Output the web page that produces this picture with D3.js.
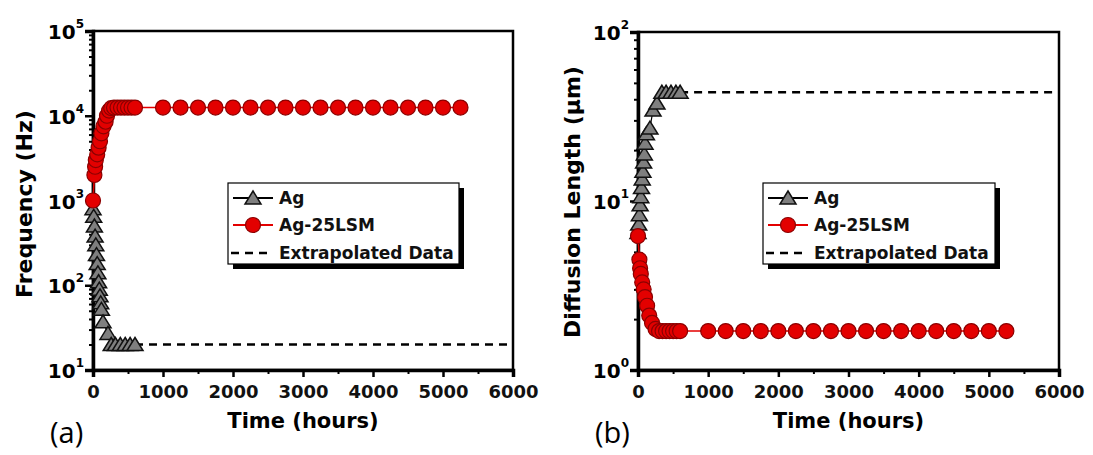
<!DOCTYPE html>
<html>
<head>
<meta charset="utf-8" />
<script src="https://d3js.org/d3.v7.min.js"></script>
<style>
    body { margin: 0; background: #fff; }
    svg { display: block; font-family: 'DejaVu Sans', sans-serif; }
</style>
</head>
<body>
<svg width="1093" height="455"></svg>
<script>
// ---- data ----
// panel (a): frequency
const agTimeA = [0, 10, 20, 30, 40, 50, 60, 70, 80, 90, 100, 110, 120, 143, 214, 260, 320, 390, 460, 530, 600]
const agFreq = [800, 650, 500, 380, 300, 230, 180, 140, 110, 90, 75, 62, 52, 37, 27, 20, 20, 20, 20, 20, 20]
const lsmTimeA = [0, 20, 30, 40, 60, 80, 100, 120, 150, 180, 200, 230, 260, 300, 350, 400, 450, 500, 550, 600,
    1000, 1250, 1500, 1750, 2000, 2250, 2500, 2750, 3000, 3250, 3500, 3750, 4000, 4250, 4500, 4750, 5000, 5250]
const lsmFreq = [1000, 2000, 2500, 3000, 3500, 4200, 5000, 6200, 7500, 8500, 10000, 11500, 12300, 12500, 12500, 12500, 12500, 12500, 12500, 12500,
    12500, 12500, 12500, 12500, 12500, 12500, 12500, 12500, 12500, 12500, 12500, 12500, 12500, 12500, 12500, 12500, 12500, 12500]
const extrapTime = [600, 6000]
const extrapFreq = [20, 20]

// panel (b): diffusion length
const agTimeB = [0, 10, 20, 30, 40, 50, 60, 70, 80, 90, 100, 120, 170, 214, 270, 340, 400, 470, 540, 600]
const agDiff = [6.5, 7.3, 8.3, 9.5, 10.6, 12, 13.5, 15, 17, 19, 22, 25, 27, 34.5, 38, 44, 44, 44, 44, 44]
const lsmTimeB = [0, 20, 30, 40, 60, 80, 100, 130, 160, 200, 250, 300, 350, 400, 450, 500, 550, 600,
    1000, 1250, 1500, 1750, 2000, 2250, 2500, 2750, 3000, 3250, 3500, 3750, 4000, 4250, 4500, 4750, 5000, 5250]
const lsmDiff = [6.2, 4.5, 4.0, 3.7, 3.3, 3.0, 2.7, 2.4, 2.1, 1.9, 1.75, 1.7, 1.7, 1.7, 1.7, 1.7, 1.7, 1.7,
    1.7, 1.7, 1.7, 1.7, 1.7, 1.7, 1.7, 1.7, 1.7, 1.7, 1.7, 1.7, 1.7, 1.7, 1.7, 1.7, 1.7, 1.7]
const extrapDiff = [44, 44]

const xTicks = [0, 1000, 2000, 3000, 4000, 5000, 6000]
const xMinor = [500, 1500, 2500, 3500, 4500, 5500]
const legendLabels = ['Ag', 'Ag-25LSM', 'Extrapolated Data']

const svg = d3.select('svg')
const triPath = 'M0,-7L8,6L-8,6Z'
const grey = '#7f7f7f'
const red = '#e30000'

function drawPanel(p) {
    const x = d3.scaleLinear().domain([0, 6000]).range([p.left, p.right])
    const y = d3.scaleLog().domain(p.yDomain).range([p.bottom, p.top])
    const g = svg.append('g')

    // frame (top / right)
    g.append('rect')
        .attr('x', p.left).attr('y', p.top)
        .attr('width', p.right - p.left).attr('height', p.bottom - p.top)
        .style('fill', 'none').style('stroke', '#000').style('stroke-width', 2.5)

    // y minor + major ticks
    const yMajor = p.yMajor
    const yMinor = y.ticks().filter(v => !yMajor.includes(v))
    g.append('g').attr('transform', `translate(${p.left},0)`)
        .call(d3.axisLeft(y).tickValues(yMinor).tickSize(4).tickFormat(''))
        .call(a => a.select('.domain').remove())
        .selectAll('line').style('stroke-width', 2)
    g.append('g').attr('transform', `translate(${p.left},0)`)
        .call(d3.axisLeft(y).tickValues(yMajor).tickSize(8).tickFormat(''))
        .call(a => a.select('.domain').style('stroke-width', 3.5))
        .selectAll('line').style('stroke-width', 2.5)

    // y labels 10^n
    yMajor.forEach(v => {
        const t = g.append('text')
            .attr('x', p.left - 9).attr('y', y(v) + 8)
            .attr('text-anchor', 'end')
            .style('font-size', '20px').style('font-weight', 'bold')
        t.append('tspan').text('10')
        t.append('tspan').attr('dy', -11).style('font-size', '12px').text(Math.round(Math.log10(v)))
    })

    // x ticks
    g.append('g').attr('transform', `translate(0,${p.bottom})`)
        .call(d3.axisBottom(x).tickValues(xMinor).tickSize(4).tickFormat(''))
        .call(a => a.select('.domain').remove())
        .selectAll('line').style('stroke-width', 2)
    g.append('g').attr('transform', `translate(0,${p.bottom})`)
        .call(d3.axisBottom(x).tickValues(xTicks).tickSize(7).tickPadding(8).tickFormat(d3.format('d')))
        .call(a => a.select('.domain').style('stroke-width', 3.5))
        .call(a => a.selectAll('line').style('stroke-width', 2.5))
        .selectAll('text')
        .style('font-family', "'DejaVu Sans', sans-serif")
        .style('font-size', '18px').style('font-weight', 'bold').style('fill', '#111')

    // titles
    g.append('text')
        .attr('x', (p.left + p.right) / 2).attr('y', 428)
        .attr('text-anchor', 'middle')
        .style('font-size', '21px').style('font-weight', 'bold')
        .text('Time (hours)')
    g.append('text')
        .attr('transform', `translate(${p.yTitleX},${p.yTitleY}) rotate(-90)`)
        .attr('text-anchor', 'middle')
        .style('font-size', '22px').style('font-weight', 'bold')
        .text(p.yTitle)
    g.append('text')
        .attr('x', p.tagX).attr('y', 443)
        .style('font-family', "'Open Sans', sans-serif")
        .style('font-size', '29px')
        .text(p.tag)

    // extrapolated dashed line
    const line = d3.line().x(d => x(d[0])).y(d => y(d[1]))
    g.append('path')
        .attr('d', line(d3.zip(extrapTime, p.extrap)))
        .style('fill', 'none').style('stroke', '#000')
        .style('stroke-width', 2.5).style('stroke-dasharray', '8,6')

    // Ag series
    const ag = d3.zip(p.agT, p.agV)
    g.append('path').attr('d', line(ag))
        .style('fill', 'none').style('stroke', '#000').style('stroke-width', 1.2)
    g.selectAll('path.tri').data(ag).enter().append('path')
        .attr('class', 'tri')
        .attr('d', triPath)
        .attr('transform', d => `translate(${x(d[0])},${y(d[1])})`)
        .style('fill', grey).style('stroke', '#111').style('stroke-width', 1.5)

    // Ag-25LSM series
    const lsm = d3.zip(p.lsmT, p.lsmV)
    g.append('path').attr('d', line(lsm))
        .style('fill', 'none').style('stroke', red).style('stroke-width', 1.6)
    g.selectAll('circle.pt').data(lsm).enter().append('circle')
        .attr('class', 'pt')
        .attr('cx', d => x(d[0])).attr('cy', d => y(d[1]))
        .attr('r', 7.5)
        .style('fill', red).style('stroke', '#8b0000').style('stroke-width', 1.2)

    // legend
    const L = p.legend
    g.append('rect').attr('x', L.x + 5).attr('y', L.y + 5)
        .attr('width', L.w).attr('height', L.h).style('fill', '#000')
    g.append('rect').attr('x', L.x).attr('y', L.y)
        .attr('width', L.w).attr('height', L.h)
        .style('fill', '#fff').style('stroke', '#000').style('stroke-width', 1.2)
    const rows = [L.y + 15, L.y + 42, L.y + 70]
    const sx0 = L.x + 5, sx1 = L.x + 45, sxm = L.x + 25
    // Ag
    g.append('line').attr('x1', sx0).attr('x2', sx1).attr('y1', rows[0]).attr('y2', rows[0])
        .style('stroke', '#000').style('stroke-width', 2)
    g.append('path').attr('d', triPath).attr('transform', `translate(${sxm},${rows[0]})`)
        .style('fill', grey).style('stroke', '#111').style('stroke-width', 1.5)
    // Ag-25LSM
    g.append('line').attr('x1', sx0).attr('x2', sx1).attr('y1', rows[1]).attr('y2', rows[1])
        .style('stroke', red).style('stroke-width', 2)
    g.append('circle').attr('cx', sxm).attr('cy', rows[1]).attr('r', 7.5)
        .style('fill', red).style('stroke', '#8b0000').style('stroke-width', 1.2)
    // Extrapolated
    g.append('line').attr('x1', sx0 - 2).attr('x2', sx1).attr('y1', rows[2]).attr('y2', rows[2])
        .style('stroke', '#000').style('stroke-width', 2.5).style('stroke-dasharray', '8,6')
    legendLabels.forEach((s, i) => {
        g.append('text').attr('x', L.x + 51).attr('y', rows[i] + 6)
            .style('font-size', '17px').style('font-weight', 'bold').style('fill', '#111')
            .text(s)
    })
}

drawPanel({
    left: 93, right: 513, top: 31, bottom: 370,
    yDomain: [10, 1e5], yMajor: [10, 100, 1000, 10000, 100000],
    yTitle: 'Frequency (Hz)', yTitleX: 32, yTitleY: 204,
    tag: '(a)', tagX: 50,
    agT: agTimeA, agV: agFreq, lsmT: lsmTimeA, lsmV: lsmFreq, extrap: extrapFreq,
    legend: { x: 228, y: 183, w: 231, h: 81 }
})

drawPanel({
    left: 638, right: 1059, top: 32, bottom: 370,
    yDomain: [1, 100], yMajor: [1, 10, 100],
    yTitle: 'Diffusion Length (\u03bcm)', yTitleX: 580, yTitleY: 202,
    tag: '(b)', tagX: 595,
    agT: agTimeB, agV: agDiff, lsmT: lsmTimeB, lsmV: lsmDiff, extrap: extrapDiff,
    legend: { x: 763, y: 183, w: 232, h: 81 }
})
</script>
</body>
</html>
